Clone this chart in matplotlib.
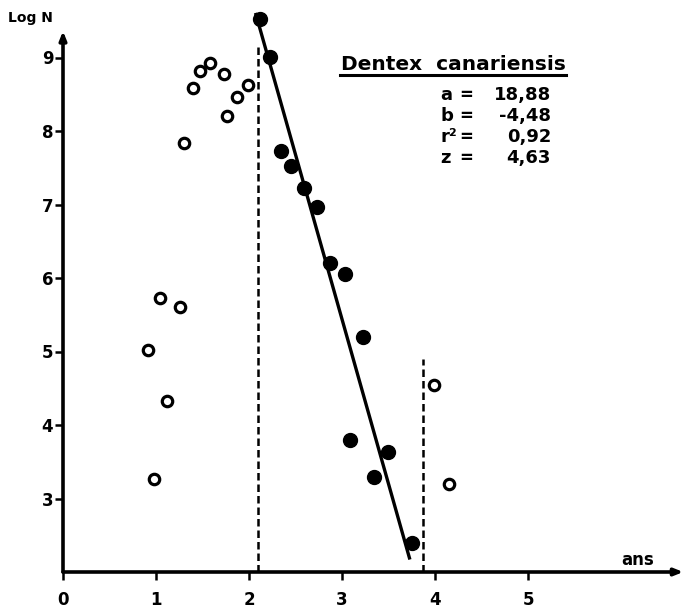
import numpy as np
import matplotlib
matplotlib.use("Agg")
from matplotlib import pyplot as plt

# open circles (not used in the regression)
open_age = [0.91, 0.98, 1.04, 1.12, 1.26, 1.30, 1.40, 1.47, 1.58, 1.73, 1.76, 1.87, 1.99, 3.99, 4.15]
open_logn = [5.02, 3.26, 5.73, 4.33, 5.61, 7.83, 8.58, 8.82, 8.93, 8.78, 8.20, 8.46, 8.62, 4.55, 3.20]

# filled circles (used in the regression)
fill_age = [2.12, 2.23, 2.34, 2.45, 2.59, 2.73, 2.87, 3.03, 3.09, 3.23, 3.34, 3.49, 3.75]
fill_logn = [9.53, 9.01, 7.73, 7.52, 7.23, 6.97, 6.21, 6.05, 3.80, 5.20, 3.29, 3.63, 2.40]

# regression parameters
a, b, r2, z = 18.88, -4.48, 0.92, 4.63
line_range = [2.07, 3.73]

# limits of the selected interval
cut_x = [2.10, 3.87]
cut_top = [9.2, 4.9]

xticks = [0, 1, 2, 3, 4, 5]
yticks = [3, 4, 5, 6, 7, 8, 9]

W, H = 687, 613
fig = plt.figure(figsize=(W / 100, H / 100), dpi=100)
ax = fig.add_axes([63 / W, 41 / H, (W - 63) / W, 572 / H])
ax.set_xlim(0, (W - 63) / 93)
ax.set_ylim(2, 2 + 572 / 73.5)
for s in ax.spines.values():
    s.set_visible(False)
ax.patch.set_alpha(0)

# axes drawn as arrows
ax.annotate("", xy=(0, 9.36), xytext=(0, 2), xycoords="data",
            arrowprops=dict(arrowstyle="-|>,head_length=0.5,head_width=0.2", lw=2.6, color="black",
                            shrinkA=0, shrinkB=0), annotation_clip=False)
ax.annotate("", xy=(6.67, 2), xytext=(0, 2), xycoords="data",
            arrowprops=dict(arrowstyle="-|>,head_length=0.5,head_width=0.2", lw=2.6, color="black",
                            shrinkA=0, shrinkB=0), annotation_clip=False)

ax.set_xticks(xticks)
ax.set_yticks(yticks)
ax.set_xticklabels([str(t) for t in xticks], fontweight="bold", fontsize=12)
ax.set_yticklabels([str(t) for t in yticks], fontweight="bold", fontsize=12)
ax.tick_params(axis="x", direction="out", length=6, width=1.8, pad=8)
ax.tick_params(axis="y", direction="out", length=6, width=1.8, pad=1)

# dashed vertical limits
for xc, yt in zip(cut_x, cut_top):
    ax.plot([xc, xc], [2, yt], color="black", lw=1.8, linestyle=(0, (3, 1.6)))

# regression line
xl = np.array(line_range)
ax.plot(xl, a + b * xl, color="black", lw=2.4, solid_capstyle="butt")

ax.plot(open_age, open_logn, "o", mfc="white", mec="black", ms=7.5, mew=2.3, clip_on=False)
ax.plot(fill_age, fill_logn, "o", color="black", ms=10, clip_on=False)

def fx(px):
    return px / W

def fy(py):
    return 1 - py / H

fig.text(fx(8), fy(18), "Log N", fontweight="bold", fontsize=10, va="center", ha="left")
fig.text(fx(638), fy(560), "ans", fontweight="bold", fontsize=12, va="center", ha="center")

fig.text(fx(341), fy(70), "Dentex  canariensis", fontweight="bold", fontsize=14.5,
         va="baseline", ha="left")
fig.add_artist(plt.Line2D([fx(340), fx(566)], [fy(75), fy(75)], color="black", lw=2.2))

names = ["a", "b", "r²", "z"]
vals = [f"{a:.2f}".replace(".", ","), f"{b:.2f}".replace(".", ","),
        f"{r2:.2f}".replace(".", ","), f"{z:.2f}".replace(".", ",")]
rows_y = [95, 116, 137, 158]
for n, v, py in zip(names, vals, rows_y):
    fig.text(fx(440), fy(py), n, fontweight="bold", fontsize=13, va="center", ha="left")
    fig.text(fx(466), fy(py), "=", fontweight="bold", fontsize=12, va="center", ha="center")
    fig.text(fx(551), fy(py), v, fontweight="bold", fontsize=13, va="center", ha="right")

fig.savefig("out.png", dpi=100)
